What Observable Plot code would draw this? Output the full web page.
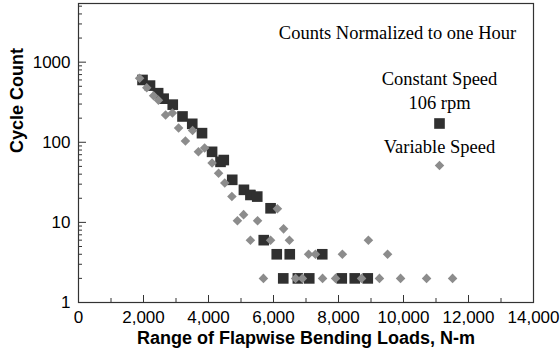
<!DOCTYPE html>
<html>
<head>
<meta charset="utf-8">
<script src="https://cdn.jsdelivr.net/npm/d3@7"></script>
<script src="https://cdn.jsdelivr.net/npm/@observablehq/plot@0.6"></script>
<style>
  body { margin: 0; background: #fff; }
  svg { display: block; }
</style>
</head>
<body>
<div id="chart"></div>
<script>
// Constant speed (106 rpm) — squares
const constantLoad  = [1970, 2200, 2450, 2620, 2900, 3200, 3500, 3800, 4110, 4370, 4470, 4730, 5090, 5290, 5500, 5910, 5700, 6100, 6500, 7500, 6300, 6750, 7100, 8100, 8500, 8900];
const constantCount = [600,  510,  410,  350,  295,  210,  170,  130,  76,   57,   60,   34,   25.5, 22,   21,   15,   6,    4,    4,    4,    2,    2,    2,    2,    2,    2];

// Variable speed — diamonds
const variableLoad  = [1880, 2100, 2310, 2460, 2680, 2890, 3080, 3290, 3510, 3690, 3880, 4110, 4310, 4500, 4720, 5080, 4890, 5510, 6120, 6310, 5290, 5910, 6490, 8920, 7080, 7290, 8120, 9510, 5690, 6680, 6890, 7510, 7910, 8710, 9260, 9910, 10710, 11510];
const variableCount = [630,  480,  380,  335,  219,  232,  151,  104,  140,  76,   85,   55,   41,   31,   21,   12.5, 10.5, 10.5, 14.8, 8.3,  6,    6,    6,    6,    4,    4,    4,    4,    2,    2,    2,    2,    2,    2,    2,    2,    2,     2];

const xTicks = [0, 2000, 4000, 6000, 8000, 10000, 12000, 14000];
const yTicks = [1, 10, 100, 1000];
const xTitle = "Range of Flapwise Bending Loads, N-m";
const yTitle = "Cycle Count";
const noteText = "Counts Normalized to one Hour";
const seriesLabels = ["Constant Speed", "106 rpm", "Variable Speed"];

const constant = constantLoad.map((x, i) => ({x, y: constantCount[i]}));
const variable = variableLoad.map((x, i) => ({x, y: variableCount[i]}));

const xMinor = d3.range(1000, 14000, 2000);
const yMinor = [];
for (const dec of [1, 10, 100, 1000]) for (let k = 2; k <= 9; k++) if (dec * k <= 5400) yMinor.push(dec * k);

const serif = "'Liberation Serif', 'Times New Roman', serif";
const sans = "'Liberation Sans', Arial, sans-serif";
const legendText = {frameAnchor: "top-right", textAnchor: "middle", lineAnchor: "middle", fontFamily: serif, fontSize: 18.5};

const chart = Plot.plot({
  width: 560,
  height: 356,
  marginLeft: 78,
  marginRight: 27,
  marginTop: 3,
  marginBottom: 54,
  style: {fontFamily: sans, fontSize: "17px", color: "#000", background: "#fff"},
  x: {domain: [0, 14000]},
  y: {type: "log", domain: [1, 5400]},
  marks: [
    Plot.axisX({ticks: xTicks, tickSize: 0, tickPadding: 8, tickFormat: d3.format(","), label: null, fontSize: 17}),
    Plot.axisX({ticks: xTicks, tickSize: -7, fill: "none", label: null, stroke: "#333"}),
    Plot.axisX({ticks: xMinor, tickSize: -4, fill: "none", label: null, stroke: "#333"}),
    Plot.axisY({ticks: yTicks, tickSize: 0, tickPadding: 8, tickFormat: d => String(d), label: null, fontSize: 17}),
    Plot.axisY({ticks: yTicks, tickSize: -8, fill: "none", label: null, stroke: "#333"}),
    Plot.axisY({ticks: yMinor, tickSize: -4, fill: "none", label: null, stroke: "#333"}),
    Plot.frame({stroke: "#333", strokeWidth: 1.2}),
    Plot.dot(constant, {x: "x", y: "y", symbol: "square", r: 6, fill: "#303030", stroke: null}),
    Plot.dot(variable, {x: "x", y: "y", symbol: "diamond2", r: 4.3, fill: "#8c8c8c", stroke: null}),
    // in-plot legend
    Plot.text([noteText], {...legendText, dx: -136, dy: 30}),
    Plot.text([seriesLabels[0]], {...legendText, dx: -94, dy: 76}),
    Plot.text([seriesLabels[1]], {...legendText, dx: -94, dy: 100}),
    Plot.dot([0], {frameAnchor: "top-right", dx: -94, dy: 120, symbol: "square", r: 6, fill: "#303030", stroke: null}),
    Plot.text([seriesLabels[2]], {...legendText, dx: -94, dy: 144}),
    Plot.dot([0], {frameAnchor: "top-right", dx: -94, dy: 162, symbol: "diamond2", r: 4.3, fill: "#8c8c8c", stroke: null}),
    // axis titles
    Plot.text([xTitle], {frameAnchor: "bottom", lineAnchor: "middle", dy: 36, fontWeight: "bold", fontSize: 18}),
    Plot.text([yTitle], {frameAnchor: "left", dx: -61, rotate: -90, fontWeight: "bold", fontSize: 18})
  ]
});
document.getElementById("chart").appendChild(chart);
</script>
</body>
</html>
